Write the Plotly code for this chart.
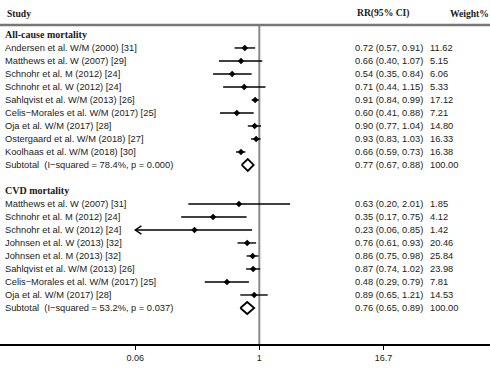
import plotly.graph_objects as go

# ---------------- data ----------------
ac_title = "All-cause mortality"
ac_studies = [
    "Andersen et al. W/M (2000) [31]",
    "Matthews et al. W (2007) [29]",
    "Schnohr et al. M (2012) [24]",
    "Schnohr et al. W (2012) [24]",
    "Sahlqvist et al. W/M (2013) [26]",
    "Celis\u2212Morales et al. W/M (2017) [25]",
    "Oja et al. W/M (2017) [28]",
    "Ostergaard et al. W/M (2018) [27]",
    "Koolhaas et al. W/M (2018) [30]",
]
ac_rr = [0.72, 0.66, 0.54, 0.71, 0.91, 0.60, 0.90, 0.93, 0.66]
ac_lo = [0.57, 0.40, 0.35, 0.44, 0.84, 0.41, 0.77, 0.83, 0.59]
ac_hi = [0.91, 1.07, 0.84, 1.15, 0.99, 0.88, 1.04, 1.03, 0.73]
ac_w = ["11.62", "5.15", "6.06", "5.33", "17.12", "7.21", "14.80", "16.33", "16.38"]
ac_sub_label = "Subtotal\u00a0\u00a0(I\u2212squared = 78.4%, p = 0.000)"
ac_sub = [0.77, 0.67, 0.88]
ac_sub_w = "100.00"

cvd_title = "CVD mortality"
cvd_studies = [
    "Matthews et al. W (2007) [31]",
    "Schnohr et al. M (2012) [24]",
    "Schnohr et al. W (2012) [24]",
    "Johnsen et al. W (2013) [32]",
    "Johnsen et al. M (2013) [32]",
    "Sahlqvist et al. W/M (2013) [26]",
    "Celis\u2212Morales et al. W/M (2017) [25]",
    "Oja et al. W/M (2017) [28]",
]
cvd_rr = [0.63, 0.35, 0.23, 0.76, 0.86, 0.87, 0.48, 0.89]
cvd_lo = [0.20, 0.17, 0.06, 0.61, 0.75, 0.74, 0.29, 0.65]
cvd_hi = [2.01, 0.75, 0.85, 0.93, 0.98, 1.02, 0.79, 1.21]
cvd_w = ["1.85", "4.12", "1.42", "20.46", "25.84", "23.98", "7.81", "14.53"]
cvd_sub_label = "Subtotal\u00a0\u00a0(I\u2212squared = 53.2%, p = 0.037)"
cvd_sub = [0.76, 0.65, 0.89]
cvd_sub_w = "100.00"

tick_vals = [0.06, 1, 16.7]
tick_text = ["0.06", "1", "16.7"]
clip_lo = 0.06
headers = ["Study", "RR(95% CI)", "Weight%"]

# ---------------- layout constants ----------------
W, H = 490, 368
X_RANGE = [-2.555, 2.273]      # log10 range of plot area (full width)
Y_TOP, Y_BOT = -2.69, 23.77    # row units
SANS = "Liberation Sans Narrow, Liberation Sans, Arial"
SERIF = "Liberation Serif, Times New Roman, serif"
TXT = "#1a1a1a"

groups = [
    (ac_title, ac_studies, ac_rr, ac_lo, ac_hi, ac_w, ac_sub_label, ac_sub, ac_sub_w),
    (cvd_title, cvd_studies, cvd_rr, cvd_lo, cvd_hi, cvd_w, cvd_sub_label, cvd_sub, cvd_sub_w),
]

fig = go.Figure()
annotations = []
ci_x, ci_y, pt_x, pt_y = [], [], [], []
arr_x, arr_y = [], []

def fmt(rr, lo, hi):
    return f"{rr:.2f} ({lo:.2f}, {hi:.2f})"

def add_text(x, y, text, font=SANS, size=9.3, bold=False, anchor="left"):
    annotations.append(dict(
        x=x, y=y, xref="paper", yref="y", text=f"<b>{text}</b>" if bold else text,
        showarrow=False, xanchor=anchor, yanchor="middle",
        font=dict(family=font, size=size, color=TXT)))

row = 0
for (title, studies, rr, lo, hi, w, sub_label, sub, sub_w) in groups:
    add_text(3 / W, row, title, font=SERIF, size=10, bold=True)
    row += 1
    for s, r, l, h, ww in zip(studies, rr, lo, hi, w):
        add_text(3 / W, row, s)
        add_text(353 / W, row, fmt(r, l, h))
        add_text(428 / W, row, ww)
        ci_x += [max(l, clip_lo), h, None]
        ci_y += [row, row, None]
        pt_x.append(r)
        pt_y.append(row)
        if l <= clip_lo:
            a = clip_lo * 10 ** 0.06
            arr_x += [a, clip_lo, a, None]
            arr_y += [row - 0.32, row, row + 0.32, None]
        row += 1
    add_text(3 / W, row, sub_label)
    add_text(353 / W, row, fmt(*sub))
    add_text(428 / W, row, sub_w)
    r, l, h = sub
    fig.add_trace(go.Scatter(
        x=[l, r, h, r, l], y=[row, row - 0.46, row, row + 0.46, row],
        mode="lines", line=dict(color="black", width=1.8), hoverinfo="skip"))
    row += 2

# null line at RR = 1
fig.add_trace(go.Scatter(x=[1, 1], y=[-0.77, Y_BOT], mode="lines",
                         line=dict(color="#8a8a8a", width=2), hoverinfo="skip"))
fig.add_trace(go.Scatter(x=ci_x, y=ci_y, mode="lines",
                         line=dict(color="black", width=1.4), hoverinfo="skip"))
fig.add_trace(go.Scatter(x=arr_x, y=arr_y, mode="lines",
                         line=dict(color="black", width=1.4), hoverinfo="skip"))
fig.add_trace(go.Scatter(x=pt_x, y=pt_y, mode="markers",
                         marker=dict(symbol="diamond", size=5, color="black"),
                         hoverinfo="skip"))

# headers
add_text(5 / W, -1.69, headers[0], font=SERIF, size=9.6, bold=True)
add_text(355 / W, -1.69, headers[1], font=SERIF, size=9.6, bold=True)
add_text(448 / W, -1.69, headers[2], font=SERIF, size=9.6, bold=True)

fig.update_layout(
    width=W, height=H,
    margin=dict(l=0, r=0, t=0, b=24),
    paper_bgcolor="white", plot_bgcolor="white",
    showlegend=False,
    hovermode=False,
    annotations=annotations,
    shapes=[dict(type="line", xref="paper", yref="y", x0=0, x1=1, y0=-0.77, y1=-0.77,
                 line=dict(color="#777777", width=2.5))],
    xaxis=dict(type="log", range=X_RANGE, showgrid=False, zeroline=False,
               showline=True, linecolor="black", linewidth=1.5,
               ticks="outside", ticklen=4, tickwidth=1, tickcolor="black",
               tickvals=tick_vals, ticktext=tick_text,
               tickfont=dict(family=SANS, size=9, color=TXT)),
    yaxis=dict(range=[Y_BOT, Y_TOP], visible=False, showgrid=False, zeroline=False),
)

fig.write_html("out.html", config={"displayModeBar": False},
               post_script="document.body.style.margin='0';document.body.style.padding='0';")
